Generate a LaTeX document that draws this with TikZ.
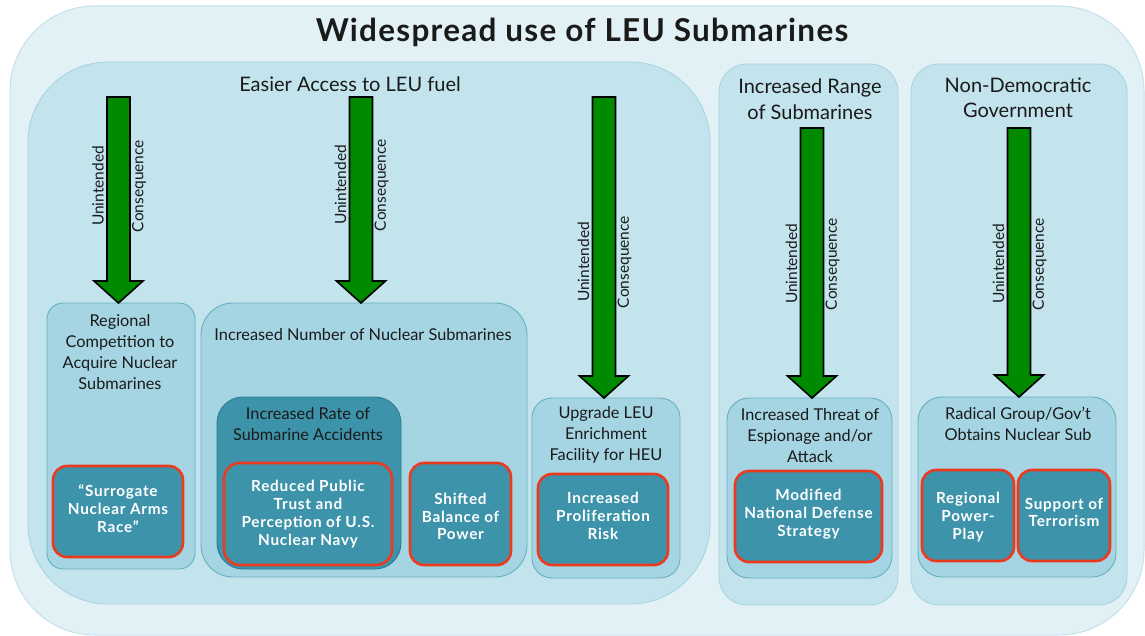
\documentclass[tikz,border=0pt]{standalone}
\usepackage{fontspec}
\setmainfont{Lato}
\usetikzlibrary{calc}
\definecolor{outerfill}{HTML}{E2F1F6}
\definecolor{outerline}{HTML}{C4E1EA}
\definecolor{colfill}{HTML}{C3E4ED}
\definecolor{colline}{HTML}{A6D1DE}
\definecolor{midfill}{HTML}{A5D5E3}
\definecolor{midline}{HTML}{68AEC2}
\definecolor{tealfill}{HTML}{3D93AA}
\definecolor{tealline}{HTML}{2C7D92}
\definecolor{redline}{HTML}{EC3A1E}
\definecolor{arrowgreen}{HTML}{008A00}
\definecolor{ink}{HTML}{1A1A1A}

% one big "unintended consequence" arrow: top coordinate, target node, label offset
\newcommand\ucarrow[3]{%
  \draw[ucbody] let \p1=(#1), \p2=(#2.north) in
    (\x1-11.5pt,\y1) -- (\x1-11.5pt,\y2+22pt) -- (\x1-24.5pt,\y2+22pt) -- (\x1,\y2)
    -- (\x1+24.5pt,\y2+22pt) -- (\x1+11.5pt,\y2+22pt) -- (\x1+11.5pt,\y1) -- cycle;
  \node[uclabel] at ($(#1)+(-20.5,#3)$) {Unintended};
  \node[uclabel] at ($(#1)+(20.5,#3)$) {Consequence};
}

\begin{document}
\begin{tikzpicture}[x=1pt,y=-1pt,
  every node/.style={inner sep=0pt, outer sep=0pt, text=ink},
  frame/.style={draw=outerline, fill=outerfill, line width=1pt, rounded corners=85pt},
  column/.style={draw=colline, fill=colfill, line width=0.8pt},
  midbox/.style={draw=midline, fill=midfill, line width=0.9pt},
  darkbox/.style={draw=tealline, fill=tealfill, line width=0.9pt},
  conbox/.style={draw=redline, fill=tealfill, line width=2.6pt, rounded corners=14pt},
  coltitle/.style={font=\fontsize{20}{25.5}\selectfont, align=center},
  midtext/.style={font=\fontsize{16.3}{21}\selectfont, align=center},
  context/.style={font=\fontsize{15.3}{17.8}\selectfont\bfseries\addfontfeatures{LetterSpace=5}, align=center, text=white},
  ucbody/.style={draw=black, fill=arrowgreen, line width=1.6pt, line join=miter},
  uclabel/.style={font=\fontsize{15.5}{18}\selectfont, rotate=90},
]
\useasboundingbox (0,0) rectangle (1145,636);

% outer frame and title
\node[frame, minimum width=1134pt, minimum height=629pt] (top) at (577,320.5) {};
\node[font=\fontsize{31.5}{34}\selectfont\bfseries\addfontfeatures{LetterSpace=4}] (title) at (582,32) {Widespread use of LEU Submarines};

% the three driver columns
\node[column, rounded corners=80pt, minimum width=682pt, minimum height=542pt] (easy) at (369,333) {};
\node[column, rounded corners=28pt, minimum width=179pt, minimum height=541pt] (range) at (808.5,334.5) {};
\node[column, rounded corners=28pt, minimum width=216pt, minimum height=541pt] (gov) at (1019,334.5) {};
\node[coltitle] (easyt) at (350,84) {Easier Access to LEU fuel};
\node[coltitle] (ranget) at (810,99) {Increased Range\\of Submarines};
\node[coltitle] (govt) at (1018,98) {Non-Democratic\\Government};

% first-order effects
\node[midbox, rounded corners=16pt, minimum width=148pt, minimum height=266pt] (comp) at (121,436) {};
\node[midbox, rounded corners=32pt, minimum width=326pt, minimum height=274pt] (num) at (364,440) {};
\node[darkbox, rounded corners=26pt, minimum width=184pt, minimum height=172pt] (rate) at (309,483) {};
\node[midbox, rounded corners=20pt, minimum width=148pt, minimum height=180pt] (upg) at (606,488) {};
\node[midbox, rounded corners=22pt, minimum width=165pt, minimum height=180pt] (thr) at (809.5,488) {};
\node[midbox, rounded corners=24pt, minimum width=198pt, minimum height=180pt] (rad) at (1017,487) {};

\node[midtext] (compt) at (120,352) {Regional\\Competition to\\Acquire Nuclear\\Submarines};
\node[midtext] (numt) at (363,335) {Increased Number of Nuclear Submarines};
\node[midtext] (ratet) at (308,424) {Increased Rate of\\Submarine Accidents};
\node[midtext] (upgt) at (606,435) {Upgrade LEU\\Enrichment\\Facility for HEU};
\node[midtext] (thrt) at (810,436) {Increased Threat of\\Espionage and/or\\Attack};
\node[midtext] (radt) at (1018,424) {Radical Group/Gov’t\\Obtains Nuclear Sub};

% consequences
\node[conbox, minimum width=130pt, minimum height=91pt] (sur) at (118,511.5) {};
\node[conbox, rounded corners=16pt, minimum width=168pt, minimum height=102pt] (trust) at (308,514) {};
\node[conbox, minimum width=101pt, minimum height=102pt] (shift) at (460.5,514) {};
\node[conbox, minimum width=130pt, minimum height=91pt] (prol) at (603,519.5) {};
\node[conbox, minimum width=147pt, minimum height=91pt] (mod) at (808.5,516.5) {};
\node[conbox, minimum width=92pt, minimum height=91pt] (pow) at (968,515.5) {};
\node[conbox, minimum width=92pt, minimum height=91pt] (ter) at (1064,515.5) {};

\node[context] at (118,508.5) {“Surrogate\\Nuclear Arms\\Race”};
\node[context] at (308,514) {Reduced Public\\Trust and\\Perception of U.S.\\Nuclear Navy};
\node[context] at (460.5,516.5) {Shifted\\Balance of\\Power};
\node[context] at (603,516) {Increased\\Proliferation\\Risk};
\node[context] at (808.5,514) {Modified\\National Defense\\Strategy};
\node[context] at (968,517) {Regional\\Power-\\Play};
\node[context] at (1064,512.5) {Support of\\Terrorism};

% unintended-consequence arrows
\coordinate (a1) at (118.5,97);
\coordinate (a2) at (361,97);
\coordinate (a3) at (604,97);
\coordinate (a4) at (812,128);
\coordinate (a5) at (1019,128);
\ucarrow{a1}{comp}{89}
\ucarrow{a2}{num}{88}
\ucarrow{a3}{upg}{165}
\ucarrow{a4}{thr}{136}
\ucarrow{a5}{rad}{136}
\end{tikzpicture}
\end{document}
